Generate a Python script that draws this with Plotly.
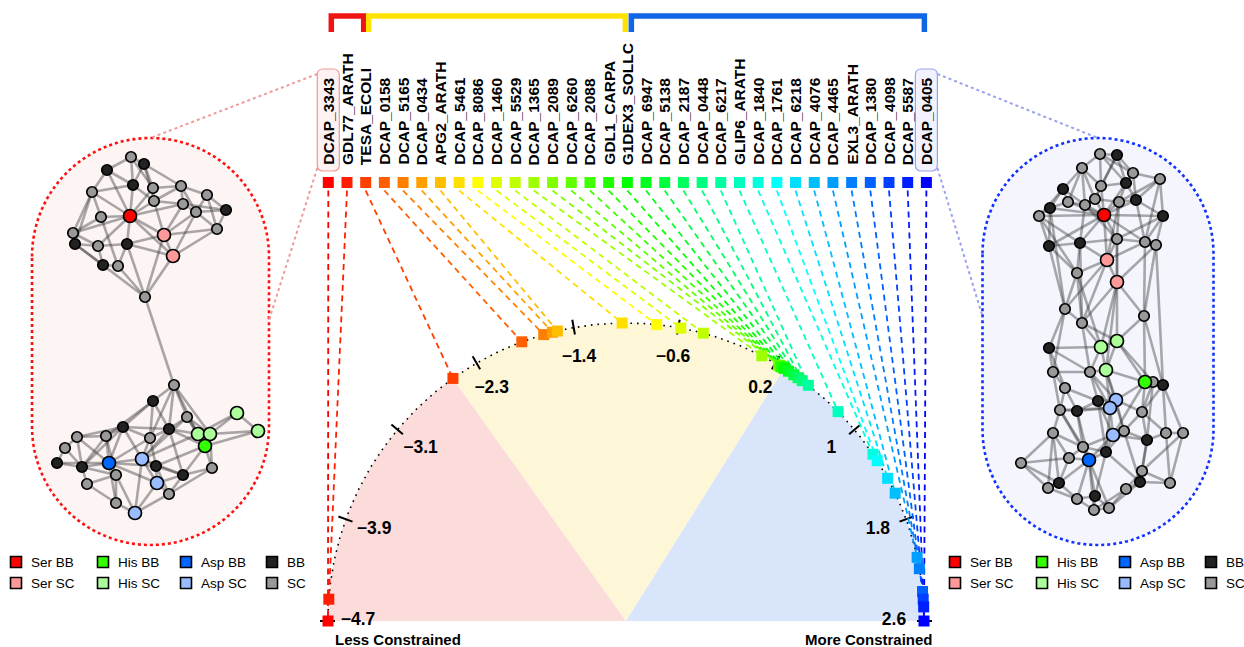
import colorsys
import numpy as np
import plotly.graph_objects as go

W, H = 1244, 647
FONT = "Liberation Sans, Arial, Helvetica, sans-serif"

# ---------------- constraint gauge data ----------------
proteins = ["DCAP_3343", "GDL77_ARATH", "TESA_ECOLI", "DCAP_0158", "DCAP_5165",
            "DCAP_0434", "APG2_ARATH", "DCAP_5461", "DCAP_8086", "DCAP_1460",
            "DCAP_5529", "DCAP_1365", "DCAP_2089", "DCAP_6260", "DCAP_2088",
            "GDL1_CARPA", "G1DEX3_SOLLC", "DCAP_6947", "DCAP_5138", "DCAP_2187",
            "DCAP_0448", "DCAP_6217", "GLIP6_ARATH", "DCAP_1840", "DCAP_1761",
            "DCAP_6218", "DCAP_4076", "DCAP_4465", "EXL3_ARATH", "DCAP_1380",
            "DCAP_4098", "DCAP_5587", "DCAP_0405"]
constraint = [-4.70, -4.53, -2.49, -1.88, -1.70, -1.63, -1.59, -1.08, -0.81, -0.62,
              -0.44, 0.05, 0.20, 0.21, 0.22, 0.23, 0.25, 0.29, 0.34, 0.38,
              0.42, 0.48, 0.79, 1.22, 1.28, 1.44, 1.57, 2.10, 2.19, 2.37,
              2.43, 2.49, 2.60]
scale_ticks = [-4.7, -3.89, -3.08, -2.27, -1.46, -0.64, 0.17, 0.98, 1.79, 2.6]
scale_tick_text = ["−4.7", "−3.9", "−3.1", "−2.3", "−1.4", "−0.6", "0.2", "1", "1.8", "2.6"]
scale_min, scale_max = -4.7, 2.6

# groups along the label row (first index, last index)
group_first = [0, 2, 16]
group_last = [2, 16, 32]
group_colors = ["#EE1414", "#FFE200", "#1166E6"]
wedge_colors = ["rgb(252,219,219)", "rgb(253,247,216)", "rgb(217,229,250)"]
highlighted = [0, 32]
highlight_line = ["#EE9A9A", "#9AA2EE"]
highlight_fill = ["#FDF1F1", "#F1F2FD"]

# ---------------- networks ----------------
kind_colors = {"SB": "#FF0000", "SS": "#FF9999", "HB": "#33FF00", "HS": "#AAFF99",
               "AB": "#0066FF", "AS": "#99BBFF", "B": "#222222", "S": "#999999"}

left_top_x = [131, 144, 107, 133, 153, 181, 92, 207, 154, 183, 196, 226, 130, 101,
              73, 75, 98, 127, 164, 217, 173, 103, 118, 145]
left_top_y = [157, 164, 170, 185, 188, 186, 192, 195, 201, 204, 212, 210, 216, 217,
              233, 244, 246, 244, 235, 229, 256, 265, 266, 297]
left_top_kind = ["S", "B", "B", "B", "S", "S", "S", "S", "S", "S", "S", "B", "SB", "S",
                 "S", "B", "S", "B", "SS", "S", "SS", "B", "S", "S"]
left_top_edges = ("1-2 1-3 1-4 1-5 2-5 2-6 2-4 3-7 3-4 3-13 4-13 4-9 5-6 5-9 6-8 6-10 "
                  "6-11 8-12 8-11 8-20 9-10 9-13 10-11 11-12 12-20 13-14 13-18 13-19 "
                  "13-7 13-15 13-10 13-17 13-21 7-14 7-15 14-15 15-16 15-17 16-17 "
                  "16-22 17-18 17-22 18-19 18-23 18-24 19-9 19-10 19-11 19-20 19-21 "
                  "19-24 21-24 21-11 22-23 23-24 16-24 14-23 5-13 2-9 7-16 20-21 "
                  "18-21 6-9 11-20 10-12 4-7")

left_bottom_x = [174, 153, 187, 237, 258, 123, 169, 198, 210, 205, 77, 106, 150, 65,
                 57, 82, 109, 142, 156, 116, 183, 212, 87, 157, 169, 116, 135]
left_bottom_y = [385, 401, 417, 413, 431, 427, 429, 434, 434, 446, 437, 436, 438, 448,
                 463, 467, 463, 459, 466, 475, 475, 468, 484, 483, 494, 503, 513]
left_bottom_kind = ["S", "B", "S", "HS", "HS", "B", "B", "HS", "HS", "HB", "S", "S", "S",
                    "S", "B", "B", "AB", "AS", "B", "S", "B", "S", "S", "AS", "S", "S", "AS"]
left_bottom_edges = ("1-2 1-3 1-7 1-9 1-8 1-13 2-6 2-7 2-12 2-13 3-7 3-8 3-9 3-18 4-5 "
                     "4-9 4-8 5-9 5-10 6-12 6-11 6-13 6-17 6-7 6-18 7-13 7-8 7-18 7-21 "
                     "8-9 8-10 8-18 9-10 9-22 10-21 10-22 10-19 11-12 11-14 11-16 12-17 "
                     "12-16 13-18 13-19 14-15 14-16 15-16 15-17 16-17 16-20 16-23 17-18 "
                     "17-20 17-19 17-24 17-26 18-19 18-24 18-27 19-21 19-24 19-25 20-23 "
                     "20-26 20-27 21-22 21-24 21-25 22-25 23-26 24-25 24-27 25-27 26-27 "
                     "12-20 13-17 18-21 7-10 3-10 11-17 6-16")
left_bridge = (24, 1)  # top-module node -> bottom-module node

right_x = [1100, 1117, 1082, 1133, 1160, 1063, 1101, 1126, 1068, 1085, 1095, 1119, 1136,
           1050, 1039, 1104, 1163, 1049, 1080, 1117, 1145, 1156, 1107, 1077, 1117, 1065,
           1144, 1082, 1049, 1101, 1117, 1053, 1090, 1106, 1145, 1153, 1163, 1065, 1098,
           1116, 1110, 1060, 1077, 1142, 1053, 1124, 1113, 1147, 1166, 1183, 1083, 1106,
           1069, 1089, 1021, 1142, 1059, 1140, 1170, 1048, 1126, 1077, 1095, 1094, 1109]
right_y = [154, 155, 168, 173, 179, 189, 186, 183, 202, 205, 199, 202, 200, 208, 216,
           215, 216, 246, 243, 239, 242, 245, 260, 273, 282, 309, 316, 323, 348, 347,
           341, 372, 372, 370, 382, 382, 385, 388, 401, 400, 408, 410, 411, 412, 433,
           431, 435, 440, 433, 433, 447, 452, 458, 460, 463, 471, 483, 482, 483, 488,
           489, 499, 496, 510, 508]
right_kind = ["S", "B", "S", "S", "S", "B", "S", "B", "S", "S", "S", "S", "B", "B", "S",
              "SB", "B", "B", "B", "S", "S", "S", "SS", "S", "SS", "S", "S", "S", "B", "HS",
              "HS", "S", "S", "HS", "HB", "S", "B", "S", "B", "AS", "AS", "S", "B", "S", "S",
              "S", "AS", "B", "S", "S", "S", "B", "S", "AB", "S", "S", "B", "B", "S", "S",
              "S", "S", "B", "S", "S"]
right_edges = ("1-2 1-3 1-7 1-4 1-8 2-4 2-8 2-11 2-7 3-6 3-7 3-10 3-9 4-5 4-8 4-13 5-13 "
               "5-17 5-21 5-12 6-9 6-14 6-15 6-10 7-11 7-8 7-16 8-12 8-13 8-16 9-14 9-10 "
               "9-16 10-11 10-16 10-19 11-16 11-12 12-13 12-16 12-20 13-17 13-21 13-16 "
               "14-15 14-18 14-16 15-18 15-19 15-16 16-17 16-19 16-20 16-23 16-21 16-18 "
               "17-22 17-21 17-20 18-19 18-24 18-26 19-20 19-24 19-23 20-21 20-23 20-25 "
               "21-22 21-23 22-27 22-25 23-24 23-25 23-28 23-26 24-26 24-28 25-27 25-28 "
               "25-30 25-34 26-29 26-28 26-32 27-31 27-35 27-37 28-30 28-31 28-33 14-26 "
               "21-27 19-28 24-30 20-31 22-37 15-24 12-23 10-20 3-11 "
               "29-30 29-32 29-33 29-38 30-31 30-34 30-33 31-34 31-35 31-36 32-33 32-38 "
               "32-42 33-34 33-39 33-40 34-35 34-40 34-41 35-36 35-37 35-40 35-44 35-47 "
               "36-37 36-44 37-44 37-49 37-50 38-42 38-43 38-39 39-40 39-41 39-43 39-52 "
               "40-41 40-44 40-46 41-47 41-43 41-42 41-52 42-43 42-45 42-51 43-51 43-54 "
               "44-46 44-48 44-49 45-51 45-53 45-55 45-60 46-47 46-48 46-52 47-48 47-52 "
               "47-54 47-51 48-49 48-56 48-58 49-50 49-59 50-59 50-56 51-53 51-54 51-52 "
               "52-54 52-63 52-58 53-54 53-55 53-57 54-57 54-63 54-62 54-64 54-65 55-57 "
               "55-60 56-58 56-59 56-61 57-60 57-62 58-59 58-61 58-65 60-62 61-65 61-64 "
               "62-63 62-64 63-64 63-65 64-65 45-57 42-54 33-41 36-48 39-47 34-46 46-58")

legend_kinds = [["SB", "HB", "AB", "B"], ["SS", "HS", "AS", "S"]]
legend_names = [["Ser BB", "His BB", "Asp BB", "BB"], ["Ser SC", "His SC", "Asp SC", "SC"]]

# ---------------- layout geometry ----------------
label_x0, label_dx = 328.3, 18.69
label_base_y, label_square_y = 167, 182.5
gauge_cx, gauge_cy, gauge_r = 626, 621, 298

fig = go.Figure()
shapes, annotations = [], []

label_x = [label_x0 + i * label_dx for i in range(len(proteins))]
n = len(proteins)
rank_colors = []
for i in range(n):
    r, g, b = colorsys.hsv_to_rgb((i / (n - 1)) * (2 / 3), 1, 1)
    rank_colors.append(f"rgb({int(r*255)},{int(g*255)},{int(b*255)})")


def theta(v):
    return np.pi * (scale_max - v) / (scale_max - scale_min)


def gauge_xy(v, rad=gauge_r):
    t = theta(v)
    return gauge_cx + rad * np.cos(t), gauge_cy - rad * np.sin(t)


# coloured wedges under the arc
bounds = [constraint[group_first[0]], constraint[group_last[0]],
          constraint[group_last[1]], constraint[group_last[2]]]
for k in range(3):
    ts = np.linspace(theta(bounds[k]), theta(bounds[k + 1]), 60)
    pts = " ".join(f"L{gauge_cx + gauge_r*np.cos(t):.2f},{gauge_cy - gauge_r*np.sin(t):.2f}" for t in ts)
    shapes.append(dict(type="path", path=f"M{gauge_cx},{gauge_cy} {pts} Z",
                       fillcolor=wedge_colors[k], line=dict(width=0), layer="below"))

# dotted arc
ts = np.linspace(0, np.pi, 300)
fig.add_trace(go.Scatter(x=gauge_cx + gauge_r * np.cos(ts), y=gauge_cy - gauge_r * np.sin(ts),
                         mode="lines", line=dict(color="black", width=1.6, dash="1.6px,5px"),
                         hoverinfo="skip"))

# ticks and tick labels
tx, ty = [], []
for v in scale_ticks:
    x1, y1 = gauge_xy(v, gauge_r - 7)
    x2, y2 = gauge_xy(v, gauge_r + 8)
    tx += [x1, x2, None]
    ty += [y1, y2, None]
fig.add_trace(go.Scatter(x=tx, y=ty, mode="lines", line=dict(color="black", width=2),
                         hoverinfo="skip"))
lx, ly = zip(*[gauge_xy(v, gauge_r - 30) for v in scale_ticks])
fig.add_trace(go.Scatter(x=list(lx), y=list(ly), mode="text",
                         text=[f"<b>{t}</b>" for t in scale_tick_text],
                         textfont=dict(family=FONT, size=17.5, color="black"),
                         textposition="middle center", hoverinfo="skip"))

# highlight boxes behind first / last labels
for j, idx in enumerate(highlighted):
    x0, x1 = label_x[idx] - 11, label_x[idx] + 11
    y0, y1 = 69, 171
    rr = 6
    path = (f"M{x0+rr},{y0} L{x1-rr},{y0} Q{x1},{y0} {x1},{y0+rr} L{x1},{y1-rr} "
            f"Q{x1},{y1} {x1-rr},{y1} L{x0+rr},{y1} Q{x0},{y1} {x0},{y1-rr} "
            f"L{x0},{y0+rr} Q{x0},{y0} {x0+rr},{y0} Z")
    shapes.append(dict(type="path", path=path, fillcolor=highlight_fill[j],
                       line=dict(color=highlight_line[j], width=1.2), layer="below"))

# dashed connectors from label row to gauge
for i in range(n):
    ax, ay = gauge_xy(constraint[i])
    fig.add_trace(go.Scatter(x=[label_x[i], ax], y=[label_square_y + 8, ay], mode="lines",
                             line=dict(color=rank_colors[i], width=1.8, dash="6px,4.5px"),
                             hoverinfo="skip"))

# squares on label row and on the gauge
fig.add_trace(go.Scatter(x=label_x, y=[label_square_y] * n, mode="markers",
                         marker=dict(symbol="square", size=11, color=rank_colors, line=dict(width=0)),
                         hoverinfo="skip"))
gx, gy = zip(*[gauge_xy(v) for v in constraint])
fig.add_trace(go.Scatter(x=list(gx), y=list(gy), mode="markers",
                         marker=dict(symbol="square", size=11, color=rank_colors, line=dict(width=0)),
                         hovertext=proteins, hoverinfo="text"))

# rotated protein labels
for i, name in enumerate(proteins):
    annotations.append(dict(x=label_x[i], y=label_base_y, text=f"<b>{name}</b>", textangle=-90,
                            xanchor="center", yanchor="bottom", showarrow=False,
                            font=dict(family=FONT, size=15.5, color="black")))

# group brackets
for k in range(3):
    xa = label_x[group_first[k]] + (3 if k < 2 else 4)
    xb = label_x[group_last[k]] - 2
    shapes.append(dict(type="path", path=f"M{xa},32 L{xa},16 L{xb},16 L{xb},32",
                       line=dict(color=group_colors[k], width=5.5)))

annotations.append(dict(x=gauge_cx - gauge_r + 70, y=639.5, text="<b>Less Constrained</b>",
                        showarrow=False, font=dict(family=FONT, size=15, color="black")))
annotations.append(dict(x=gauge_cx + gauge_r - 55, y=639.5, text="<b>More Constrained</b>",
                        showarrow=False, font=dict(family=FONT, size=15, color="black")))


# ---------------- network panels ----------------
def stadium(cx, a, yt, yb, m=80):
    t1 = np.linspace(np.pi, 0, m)
    t2 = np.linspace(0, -np.pi, m)
    pts = [(cx + a * np.cos(t), yt + a - a * np.sin(t)) for t in t1]
    pts += [(cx + a * np.cos(t), yb - a - a * np.sin(t)) for t in t2]
    return "M" + " L".join(f"{x:.2f},{y:.2f}" for x, y in pts) + " Z"


panels = [dict(cx=150.5, a=118.5, fill="rgb(253,244,244)", line="#FF1010"),
          dict(cx=1098, a=115.5, fill="rgb(245,246,253)", line="#1030FF")]
for p in panels:
    shapes.append(dict(type="path", path=stadium(p["cx"], p["a"], 138, 545),
                       fillcolor=p["fill"], line=dict(color=p["line"], width=2.6, dash="dot"),
                       layer="below"))

# dotted call-out lines from highlighted labels to panels
callouts = [((label_x[0] - 11, 74), (150.5, 138), highlight_line[0]),
            ((label_x[0] - 11, 168), (269, 320), highlight_line[0]),
            ((label_x[-1] + 11, 74), (1098, 138), highlight_line[1]),
            ((label_x[-1] + 11, 168), (983, 318), highlight_line[1])]
for (x0, y0), (x1, y1), c in callouts:
    shapes.append(dict(type="line", x0=x0, y0=y0, x1=x1, y1=y1,
                       line=dict(color=c, width=2, dash="dot"), layer="below"))


def parse_edges(s):
    return [tuple(int(t) - 1 for t in e.split("-")) for e in s.split()]


EDGE_COLOR = "rgba(55,55,55,0.42)"


def add_edges(xs, ys, edges):
    for a, b in edges:
        shapes.append(dict(type="line", x0=xs[a], y0=ys[a], x1=xs[b], y1=ys[b],
                           line=dict(color=EDGE_COLOR, width=2.6), layer="below"))


add_edges(left_top_x, left_top_y, parse_edges(left_top_edges))
add_edges(left_bottom_x, left_bottom_y, parse_edges(left_bottom_edges))
shapes.append(dict(type="line", x0=left_top_x[left_bridge[0] - 1], y0=left_top_y[left_bridge[0] - 1],
                   x1=left_bottom_x[left_bridge[1] - 1], y1=left_bottom_y[left_bridge[1] - 1],
                   line=dict(color=EDGE_COLOR, width=2.6), layer="below"))
add_edges(right_x, right_y, parse_edges(right_edges))


def add_nodes(xs, ys, kinds):
    plain = [i for i, k in enumerate(kinds) if k in ("B", "S")]
    special = [i for i, k in enumerate(kinds) if k not in ("B", "S")]
    for group, size in ((plain, 10.5), (special, 13)):
        fig.add_trace(go.Scatter(
            x=[xs[i] for i in group], y=[ys[i] for i in group], mode="markers",
            marker=dict(size=size, color=[kind_colors[kinds[i]] for i in group],
                        line=dict(color="black", width=1.7)),
            hoverinfo="skip"))


add_nodes(left_top_x, left_top_y, left_top_kind)
add_nodes(left_bottom_x, left_bottom_y, left_bottom_kind)
add_nodes(right_x, right_y, right_kind)

# ---------------- legends ----------------
for ox in (0, 939):
    col_x = [16, 103, 186, 272]
    row_y = [562, 583]
    sx, sy, sc = [], [], []
    for r in range(2):
        for c in range(4):
            sx.append(ox + col_x[c])
            sy.append(row_y[r])
            sc.append(kind_colors[legend_kinds[r][c]])
            annotations.append(dict(x=ox + col_x[c] + 13, y=row_y[r], text=legend_names[r][c],
                                    xanchor="left", yanchor="middle", showarrow=False,
                                    font=dict(family=FONT, size=13.5, color="black")))
    fig.add_trace(go.Scatter(x=sx, y=sy, mode="markers",
                             marker=dict(symbol="square", size=11, color=sc,
                                         line=dict(color="black", width=1.6)),
                             hoverinfo="skip"))

fig.update_layout(
    width=W, height=H, autosize=False, showlegend=False,
    margin=dict(l=0, r=0, t=0, b=0),
    paper_bgcolor="white", plot_bgcolor="white",
    xaxis=dict(range=[0, W], visible=False, fixedrange=True),
    yaxis=dict(range=[H, 0], visible=False, fixedrange=True),
    shapes=shapes, annotations=annotations,
)

fig.write_html("out.html")
